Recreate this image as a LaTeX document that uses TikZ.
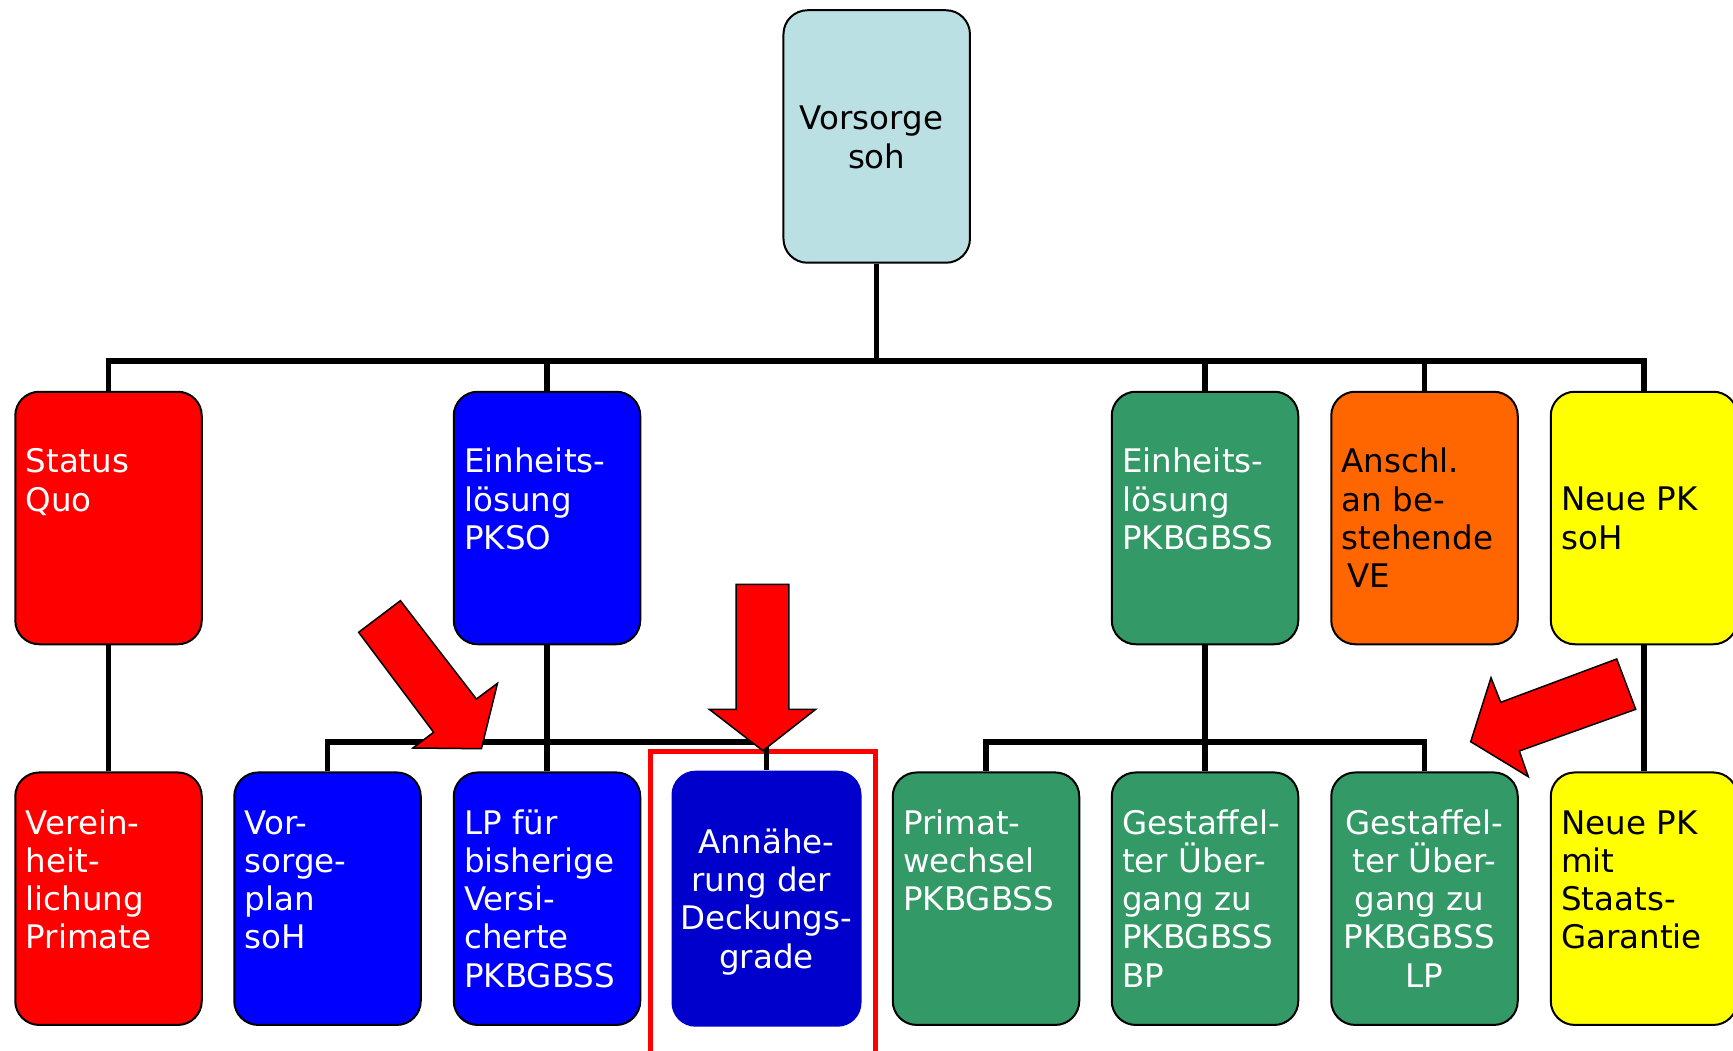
\documentclass[tikz,border=0pt]{standalone}
\usepackage{fontspec}
\setmainfont{DejaVu Sans}
\definecolor{rootc}{HTML}{BBE0E3}
\definecolor{cred}{HTML}{FF0000}
\definecolor{cblue}{HTML}{0000FF}
\definecolor{cnavy}{HTML}{0000CC}
\definecolor{cgreen}{HTML}{339966}
\definecolor{corange}{HTML}{FF6600}
\definecolor{cyellow}{HTML}{FFFF00}
\pgfdeclarelayer{bg}
\pgfsetlayers{bg,main}
\newcommand{\TL}[1]{\vtop{\baselineskip=38.3pt\lineskiplimit=-1000pt\lineskip=0pt\halign{##\hfil\cr#1\crcr}}}
\newcommand{\TC}[1]{\vtop{\baselineskip=38.3pt\lineskiplimit=-1000pt\lineskip=0pt\halign{\hfil##\hfil\cr#1\crcr}}}
\newcommand{\tsp}{\hphantom{\ }}
\begin{document}
\begin{tikzpicture}[x=1pt,y=-1pt,
  box/.style={draw=black,line width=2pt,rounded corners=24pt,minimum width=186.5pt,minimum height=252.5pt,inner sep=0pt},
  conn/.style={draw=black,line width=5.3pt,line join=miter},
  txt/.style={font=\fontsize{32.5}{38.3}\selectfont,inner sep=0pt},
  wtxt/.style={txt,text=white},
  btxt/.style={txt,text=black},
  bigarrow/.style={fill=red,draw=black,line width=1.5pt,line join=miter}]
\useasboundingbox (0,0) rectangle (1733,1051);
\clip (0,0) rectangle (1733,1051);

% top and first row
\node[box,fill=rootc] (root) at (876.7,136.5) {};
\node[box,fill=cred] (sq) at (108.5,518) {};
\node[box,fill=cblue] (pkso) at (547,518) {};
\node[box,fill=cgreen] (pkb) at (1205,518) {};
\node[box,fill=corange] (ans) at (1424.5,518) {};
\node[box,fill=cyellow] (np) at (1644,518) {};
% second row
\node[box,fill=cred] (vh) at (108.5,898.7) {};
\node[box,fill=cblue] (vp) at (327.5,898.7) {};
\node[box,fill=cblue] (lp) at (547,898.7) {};
\node[box,draw=none,fill=cnavy,minimum width=190pt,minimum height=256pt] (an) at (766.5,898.7) {};
\node[box,fill=cgreen] (pw) at (986,898.7) {};
\node[box,fill=cgreen] (gbp) at (1205,898.7) {};
\node[box,fill=cgreen] (glp) at (1424.5,898.7) {};
\node[box,fill=cyellow] (npm) at (1644,898.7) {};

% texts
\node[btxt,anchor=base] (root-t) at (876.7,130) {\TC{Vorsorge\tsp\cr soh}};
\node[wtxt,anchor=base west] (sq-t) at (25.5,472.7) {\TL{Status\cr Quo}};
\node[wtxt,anchor=base west] (pkso-t) at (464,472.7) {\TL{Einheits-\cr lösung\cr PKSO}};
\node[wtxt,anchor=base west] (pkb-t) at (1122,472.7) {\TL{Einheits-\cr lösung\cr PKBGBSS}};
\node[btxt,anchor=base west] (ans-t) at (1341.5,472.7) {\TL{Anschl.\cr an be-\cr stehende\cr \kern6pt VE}};
\node[btxt,anchor=base west] (np-t) at (1561,510.7) {\TL{Neue PK\cr soH}};
\node[wtxt,anchor=base west] (vh-t) at (25.5,834) {\TL{Verein-\cr heit-\cr lichung\cr Primate}};
\node[wtxt,anchor=base west] (vp-t) at (244.5,834) {\TL{Vor-\cr sorge-\cr plan\cr soH}};
\node[wtxt,anchor=base west] (lp-t) at (464,834) {\TL{LP für\cr bisherige\cr Versi-\cr cherte\cr PKBGBSS}};
\node[wtxt,anchor=base] (an-t) at (766.5,853.3) {\TC{Annähe-\cr rung der\tsp\cr Deckungs-\cr grade}};
\node[wtxt,anchor=base west] (pw-t) at (903,834) {\TL{Primat-\cr wechsel\cr PKBGBSS}};
\node[wtxt,anchor=base west] (gbp-t) at (1122,834) {\TL{Gestaffel-\cr ter Über-\cr gang zu\cr PKBGBSS\cr BP}};
\node[wtxt,anchor=base] (glp-t) at (1424.5,834) {\TC{Gestaffel-\cr ter Über-\cr gang zu\tsp\cr PKBGBSS\tsp\cr LP}};
\node[btxt,anchor=base west] (npm-t) at (1561,834) {\TL{Neue PK\cr mit\cr Staats-\cr Garantie}};

\begin{pgfonlayer}{bg}
\node[draw=red,line width=5pt,minimum width=225.8pt,minimum height=330pt,anchor=north west,inner sep=0pt,outer sep=0pt] (hl) at (650,751) {};
\coordinate (bus) at (876.7,361);
\coordinate (sb) at (766.5,742);
\draw[conn] (root.south) -- (root.south |- bus);
\draw[conn] (sq.north) -- (sq.north |- bus) -- (np.north |- bus) -- (np.north);
\foreach \n in {pkso,pkb,ans} \draw[conn] (\n.north) -- (\n.north |- bus);
\draw[conn] (sq.south) -- (vh.north);
\draw[conn] (np.south) -- (npm.north);
\draw[conn] (pkso.south) -- (lp.north);
\draw[conn] (vp.north) -- (vp.north |- sb) -- (an.north |- sb) -- (an.north);
\draw[conn] (pkb.south) -- (gbp.north);
\draw[conn] (pw.north) -- (pw.north |- sb) -- (glp.north |- sb) -- (glp.north);
\end{pgfonlayer}

% red block arrows
\draw[bigarrow] (358.6,632.3) -- (400.4,600.7) -- (476.4,699) -- (497.5,683.3) -- (481.4,748.7) -- (412.9,748) -- (433.6,732.3) -- cycle;
\draw[bigarrow] (736.1,584.3) -- (788.9,584.3) -- (788.9,709.3) -- (815.7,709.3) -- (762.9,750.7) -- (709.3,709.3) -- (736.1,709.3) -- cycle;
\draw[bigarrow] (1616.7,659) -- (1635.7,709.3) -- (1519.3,751) -- (1528.3,776.7) -- (1470.7,741.7) -- (1491,677.7) -- (1500.7,702.3) -- cycle;
\end{tikzpicture}
\end{document}
